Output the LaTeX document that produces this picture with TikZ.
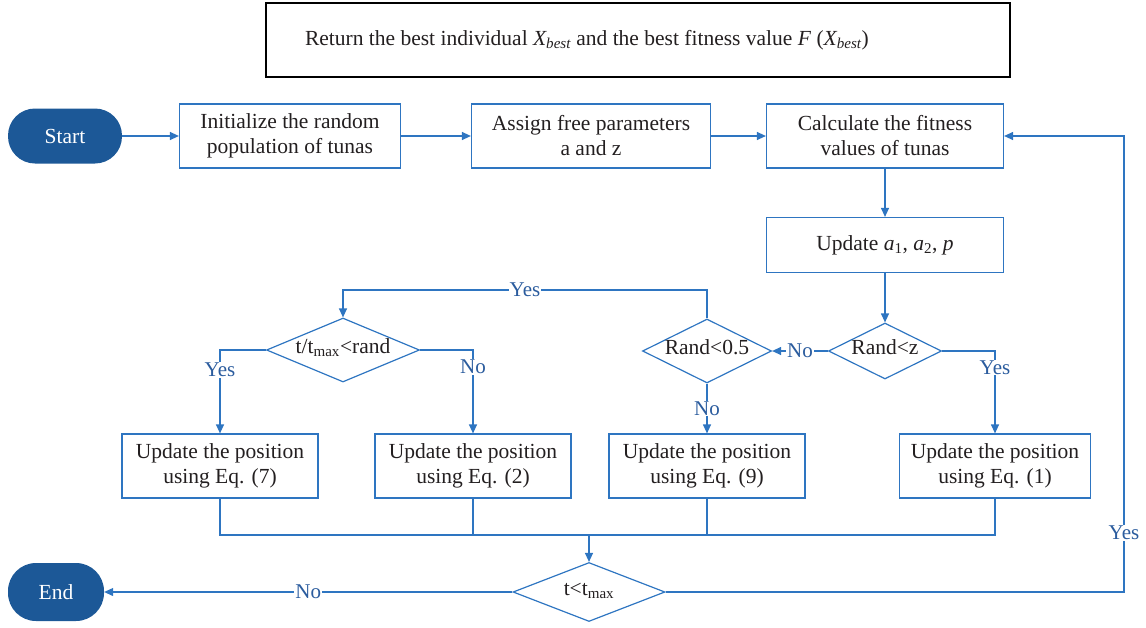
\documentclass[tikz,border=0pt]{standalone}
\usepackage{fontspec}
\setmainfont{Liberation Serif}
\usetikzlibrary{shapes.geometric,arrows.meta}
\definecolor{lineblue}{HTML}{2E75C1}
\definecolor{labelblue}{HTML}{2B5C9E}
\definecolor{termblue}{HTML}{1C5897}
\definecolor{textgray}{HTML}{231F20}
\newcommand{\dtext}[1]{\makebox[0pt]{#1}}
\begin{document}
\begin{tikzpicture}[x=1pt,y=-1pt,
  every node/.style={font=\fontsize{21.5}{25}\selectfont, text=textgray},
  procbox/.style={draw=lineblue, line width=1.2pt, align=center, minimum width=196pt, minimum height=64pt, inner sep=2pt},
  decision/.style={draw=lineblue, line width=1.2pt, shape=diamond, inner sep=0pt, text height=1.5ex, text depth=0pt},
  terminal/.style={fill=termblue, text=white, rounded corners=27pt, inner sep=0pt},
  conn/.style={draw=lineblue, line width=1.2pt},
  arr/.style={conn, -{Triangle[length=9pt,width=8pt]}},
  lbl/.style={fill=white, text=labelblue, inner sep=1pt, font=\fontsize{21}{24}\selectfont}]
\useasboundingbox (0,0) rectangle (1146,627);
% top box
\node[draw=black, line width=1.5pt, inner xsep=39pt, minimum height=74pt] (ret) at (638,40)
  {\makebox[666pt][l]{Return the best individual \textit{X\textsubscript{best}} and the best fitness value \textit{F} (\textit{X\textsubscript{best}})}};
% row 1
\node[terminal, minimum width=114pt, minimum height=55pt] (start) at (65,136) {Start};
\node[procbox, minimum width=221pt] (init) at (290,136) {Initialize the random\\population of tunas};
\node[procbox, minimum width=239pt] (assign) at (591,136) {Assign free parameters\\a and z};
\node[procbox, minimum width=237pt] (calc) at (885,136) {Calculate the fitness\\values of tunas};
\node[procbox, minimum width=237pt, minimum height=55pt] (upd) at (885,245) {Update \textit{a}\textsubscript{1}, \textit{a}\textsubscript{2}, \textit{p}};
% decisions
\node[decision, minimum width=113pt, minimum height=56pt] (randz) at (885,351) {\dtext{Rand<z}};
\node[decision, minimum width=129pt, minimum height=64pt] (rand05) at (707,351) {\dtext{Rand<0.5}};
\node[decision, minimum width=153pt, minimum height=64pt] (ttmax) at (343,350) {\dtext{t/t\textsubscript{max}<rand}};
% update boxes
\node[procbox] (eq7) at (220,466) {Update the position\\using Eq. (7)};
\node[procbox] (eq2) at (473,466) {Update the position\\using Eq. (2)};
\node[procbox] (eq9) at (707,466) {Update the position\\using Eq. (9)};
\node[procbox, minimum width=191pt] (eq1) at (995,466) {Update the position\\using Eq. (1)};
% final decision and end
\node[decision, minimum width=152pt, minimum height=59pt] (tlt) at (589,592) {\dtext{t<t\textsubscript{max}}};
\node[terminal, minimum width=96pt, minimum height=58pt, rounded corners=28pt] (end) at (56,592) {End};
% coordinates
\coordinate (yc) at (343,290);
\coordinate (m) at (589,535);
\coordinate (rx) at (1124,0);
% connectors
\draw[arr] (start) -- (init);
\draw[arr] (init) -- (assign);
\draw[arr] (assign) -- (calc);
\draw[arr] (calc) -- (upd);
\draw[arr] (upd) -- (randz);
\draw[arr] (randz.west) -- node[lbl]{No} (rand05.east);
\draw[arr] (randz.east) -| node[lbl, pos=0.6]{Yes} (eq1.north);
\draw[arr] (rand05.north) |- node[lbl, pos=0.75]{Yes} (yc) -- (ttmax.north);
\draw[arr] (ttmax.west) -| node[lbl, pos=0.62]{Yes} (eq7.north);
\draw[arr] (ttmax.east) -| node[lbl, pos=0.6]{No} (eq2.north);
\draw[arr] (rand05.south) -- node[lbl]{No} (eq9.north);
\draw[conn] (eq7.south) |- (m);
\draw[conn] (eq2.south) |- (m);
\draw[conn] (eq9.south) |- (m);
\draw[conn] (eq1.south) |- (m);
\draw[arr] (m) -- (tlt.north);
\draw[arr] (tlt.west) -- node[lbl]{No} (end.east);
\draw[arr] (tlt.east) -- (tlt.east -| rx) -- node[lbl, pos=0.13]{Yes} (rx |- calc.east) -- (calc.east);
\end{tikzpicture}
\end{document}
